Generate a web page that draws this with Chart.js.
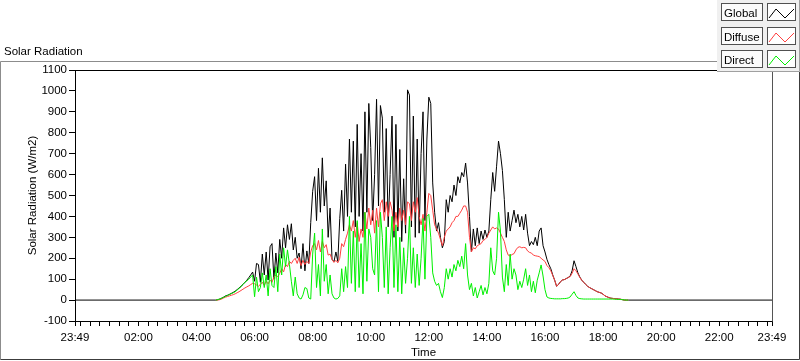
<!DOCTYPE html>
<html>
<head>
<meta charset="utf-8">
<title>Solar Radiation</title>
<script src="https://cdn.jsdelivr.net/npm/chart.js@4/dist/chart.umd.min.js"></script>
<style>
  html, body { margin: 0; padding: 0; background: #fff; }
  #wrap { position: relative; width: 800px; height: 361px; }
  canvas { display: block; }
</style>
</head>
<body>
<div id="wrap"><canvas id="solar-chart" width="800" height="361"></canvas></div>
<script>
    // axis: one full day starting at 23:49
    const axisStart = '23:49';
    const timeLabels = ['23:49', '02:00', '04:00', '06:00', '08:00', '10:00', '12:00',
                        '14:00', '16:00', '18:00', '20:00', '22:00', '23:49'];
    const minorTickStep = 20; // minutes between small ticks

    const yMin = -100;
    const yMax = 1100;
    const yStep = 100;

    // logger samples, every 4 minutes from 04:40
    const sampleStart = '04:40';
    const sampleStep = 4;

    const seriesNames = ['Global', 'Diffuse', 'Direct'];
    const seriesColors = ['#000000', '#ff4040', '#00f000'];

    const globalRad = [
        0, 2, 5, 9, 14, 20, 23, 27, 32, 37,
        43, 50, 58, 66, 75, 85, 95, 107, 120, 134,
        90, 175, 170, 85, 220, 120, 230, 96, 255, 270,
        100, 225, 130, 290, 200, 345, 250, 360, 290, 365,
        240, 300, 200, 225, 150, 270, 140, 235, 175, 370,
        520, 590, 380, 630, 420, 680, 450, 570, 300, 440,
        195, 183, 230, 185, 390, 525, 330, 650, 400, 770,
        420, 760, 350, 840, 400, 700, 330, 900, 420, 940,
        730, 380, 600, 960, 450, 930, 870, 420, 820, 350,
        600, 880, 300, 840, 330, 720, 280, 580, 320, 1005,
        980, 350, 880, 300, 770, 320, 700, 900, 380, 770,
        970, 940, 560, 420, 330, 370, 300, 250, 280, 480,
        420, 500, 470, 550, 500, 590, 560, 610, 590, 655,
        560, 400, 230, 340, 260, 345, 270, 330, 290, 335,
        300, 330, 480, 610, 520, 640, 760, 700, 620, 480,
        300, 420, 330, 380, 430, 370, 410, 350, 400, 335,
        410, 320, 260, 280, 265, 300, 260, 330, 345, 260,
        230, 195, 170, 150, 120, 95, 66, 75, 88, 96,
        98, 103, 108, 115, 140, 188, 160, 130, 110, 95,
        85, 75, 66, 60, 55, 50, 45, 40, 37, 34,
        28, 20, 16, 12, 9, 8, 7, 6, 5, 4,
        2, 0, 0, 0
    ];

    const diffuseRad = [
        0, 0, 2, 5, 10, 14, 17, 20, 23, 26,
        30, 35, 40, 46, 52, 58, 63, 68, 74, 80,
        78, 72, 66, 75, 85, 70, 90, 78, 95, 85,
        110, 120, 112, 128, 150, 135, 170, 160, 185, 175,
        190, 200, 175, 205, 165, 190, 170, 185, 175, 230,
        260, 270, 240, 285, 230, 280, 250, 265, 215, 220,
        195, 180, 190, 178, 200, 270, 255, 290, 320, 360,
        330, 380, 300, 370, 280, 340, 300, 420, 340, 440,
        360, 430, 320, 440, 350, 460, 480, 380, 470, 400,
        470, 430, 330, 420, 350, 440, 380, 430, 360, 470,
        460, 380, 470, 420, 490, 400, 360, 410, 330, 420,
        510, 500, 430, 360, 340, 320, 290, 260, 300, 330,
        340, 350, 370, 380, 400, 400, 415, 430, 450, 450,
        420, 300, 230, 250, 245, 260, 265, 270, 285, 290,
        300, 320, 335, 350, 340, 345, 340, 320, 300, 280,
        240, 215, 210, 218, 222, 240, 252, 255, 250, 252,
        250, 235, 228, 225, 215, 212, 210, 208, 200, 192,
        185, 165, 155, 140, 118, 95, 66, 75, 88, 96,
        98, 103, 108, 112, 128, 150, 140, 125, 108, 95,
        85, 75, 66, 60, 55, 50, 45, 40, 37, 34,
        28, 20, 16, 12, 9, 8, 7, 6, 5, 4,
        2, 0, 0, 0
    ];

    const directRad = [
        0, 2, 5, 9, 13, 18, 22, 27, 31, 35,
        40, 48, 56, 64, 75, 85, 92, 100, 110, 120,
        16, 110, 40, 60, 130, 60, 120, 20, 150, 70,
        60, 160, 40, 220, 120, 250, 160, 240, 170, 90,
        20, 110, 30, 10, 5, 25, 60, 55, 10, 5,
        220, 320, 60, 170, 20, 340, 90, 170, 30, 120,
        30, 10, 5, 8, 20, 150, 40, 160, 60, 400,
        80, 330, 40, 380, 60, 270, 30, 420, 90, 340,
        300, 150, 120, 380, 40, 420, 300, 60, 350, 30,
        250, 400, 60, 360, 40, 300, 30, 250, 80, 200,
        400, 80, 250, 60, 220, 70, 200, 390, 100, 400,
        410, 300, 130, 90, 70, 80, 40, 12, 60, 150,
        100, 150, 110, 170, 140, 190, 160, 210, 150, 270,
        120, 50, 80, 20, 60, 10, 40, 70, 25, 60,
        30, 80, 250, 140, 120, 200, 420, 330, 110, 40,
        170, 70, 220, 100, 150, 120, 50, 90, 60, 100,
        150, 70, 120, 40, 90, 35, 95, 130, 168, 115,
        50, 15, 10, 8, 7, 6, 6, 6, 6, 7,
        7, 8, 10, 15, 28, 40, 22, 10, 7, 6,
        5, 5, 5, 5, 5, 5, 5, 5, 5, 5,
        5, 5, 5, 5, 5, 5, 4, 4, 3, 3,
        2, 1, 0, 0
    ];

    const dayLength = 1440;
    const fontFamily = '"Liberation Sans", Arial, sans-serif';
    const fontSize = 11.5;

    function toMinutes(hhmm) {
        const [h, m] = hhmm.split(':').map(Number);
        return h * 60 + m;
    }

    // minutes after axisStart; a repeated axisStart means the end of the day
    function offsetOf(hhmm, i) {
        let m = toMinutes(hhmm) - toMinutes(axisStart);
        if (m < 0 || (m === 0 && i > 0)) m += dayLength;
        return m;
    }

    const labelOffsets = timeLabels.map(offsetOf);
    const firstSample = offsetOf(sampleStart, 1);

    function toPoints(values) {
        return values.map((v, i) => ({ x: firstSample + i * sampleStep, y: v }));
    }

    // global is logged all day; it is 0 outside the sampled hours
    const globalPoints = [{ x: 0, y: 0 }, ...toPoints(globalRad), { x: dayLength, y: 0 }];

    function buildTimeTicks(scale) {
        const vals = new Set(labelOffsets);
        const first = (minorTickStep - toMinutes(axisStart) % minorTickStep) % minorTickStep;
        for (let m = first; m < dayLength; m += minorTickStep) vals.add(m);
        scale.ticks = [...vals].sort((a, b) => a - b).map(v => ({ value: v }));
    }

    // LabVIEW-like frame, caption and plot legend
    const framePlugin = {
        id: 'labviewFrame',
        beforeDraw(chart) {
            const ctx = chart.ctx;
            ctx.save();
            ctx.fillStyle = '#ffffff';
            ctx.fillRect(0, 0, chart.width, chart.height);

            ctx.lineWidth = 1;
            ctx.strokeStyle = '#8c8c8c';
            ctx.beginPath();
            ctx.moveTo(0.5, 359.5);
            ctx.lineTo(0.5, 61.5);
            ctx.lineTo(799.5, 61.5);
            ctx.stroke();
            ctx.strokeStyle = '#3c3c3c';
            ctx.beginPath();
            ctx.moveTo(0.5, 359.5);
            ctx.lineTo(799.5, 359.5);
            ctx.lineTo(799.5, 61.5);
            ctx.stroke();

            ctx.fillStyle = '#000';
            ctx.font = `${fontSize}px ${fontFamily}`;
            ctx.textBaseline = 'alphabetic';
            ctx.textAlign = 'left';
            ctx.fillText('Solar Radiation', 4, 55);
            ctx.restore();
        },
        afterDraw(chart) {
            const ctx = chart.ctx;
            const a = chart.chartArea;
            ctx.save();
            ctx.lineWidth = 1;
            ctx.strokeStyle = '#000';
            ctx.beginPath();
            ctx.moveTo(Math.floor(a.left) + 0.5, Math.floor(a.top) + 0.5);
            ctx.lineTo(Math.floor(a.right) + 0.5, Math.floor(a.top) + 0.5);
            ctx.stroke();
            ctx.strokeStyle = '#555';
            ctx.beginPath();
            ctx.moveTo(Math.floor(a.right) + 0.5, Math.floor(a.top) + 0.5);
            ctx.lineTo(Math.floor(a.right) + 0.5, Math.floor(a.bottom) + 0.5);
            ctx.stroke();

            // legend panel
            ctx.fillStyle = '#f0f0f0';
            ctx.fillRect(717, 0, 83, 72);
            ctx.strokeStyle = '#a0a0a0';
            ctx.beginPath();
            ctx.moveTo(717, 71.5);
            ctx.lineTo(799.5, 71.5);
            ctx.lineTo(799.5, 0);
            ctx.stroke();

            ctx.font = `${fontSize}px ${fontFamily}`;
            ctx.textBaseline = 'alphabetic';
            ctx.textAlign = 'left';
            seriesNames.forEach((name, r) => {
                const y0 = 3 + Math.round(r * 23.5);
                ctx.fillStyle = '#fbfbfb';
                ctx.fillRect(721, y0, 42, 18);
                ctx.strokeStyle = '#505050';
                ctx.strokeRect(721.5, y0 + 0.5, 41, 17);
                ctx.fillStyle = '#000';
                ctx.fillText(name, 724, y0 + 14);

                ctx.fillStyle = '#ffffff';
                ctx.fillRect(767, y0, 29, 18);
                ctx.strokeStyle = '#505050';
                ctx.strokeRect(767.5, y0 + 0.5, 28, 17);
                ctx.strokeStyle = seriesColors[r];
                ctx.beginPath();
                ctx.moveTo(769, y0 + 15);
                ctx.lineTo(776, y0 + 6);
                ctx.lineTo(785, y0 + 15);
                ctx.lineTo(794, y0 + 6);
                ctx.stroke();
            });
            ctx.restore();
        }
    };

    Chart.defaults.font.family = fontFamily;
    Chart.defaults.font.size = fontSize;
    Chart.defaults.color = '#000';

    const ctx = document.getElementById('solar-chart').getContext('2d');
    new Chart(ctx, {
        type: 'line',
        data: {
            datasets: [
                { label: seriesNames[2], data: toPoints(directRad), borderColor: seriesColors[2], order: 0 },
                { label: seriesNames[1], data: toPoints(diffuseRad), borderColor: seriesColors[1], order: 1 },
                { label: seriesNames[0], data: globalPoints, borderColor: seriesColors[0], order: 2 }
            ]
        },
        options: {
            responsive: false,
            animation: false,
            devicePixelRatio: 1,
            parsing: false,
            events: [],
            layout: { padding: { top: 70, right: 28, left: 0, bottom: 0 } },
            elements: {
                point: { radius: 0 },
                line: { borderWidth: 1, tension: 0, fill: false }
            },
            plugins: {
                legend: { display: false },
                tooltip: { enabled: false }
            },
            scales: {
                x: {
                    type: 'linear',
                    min: 0,
                    max: dayLength,
                    afterBuildTicks: buildTimeTicks,
                    afterFit: scale => { scale.height = 40; },
                    ticks: {
                        autoSkip: false,
                        maxRotation: 0,
                        padding: 5,
                        callback: value => {
                            const idx = labelOffsets.indexOf(value);
                            return idx >= 0 ? timeLabels[idx] : '';
                        }
                    },
                    grid: { drawOnChartArea: false, tickLength: 5, color: '#000' },
                    border: { color: '#000' },
                    title: { display: true, text: 'Time', padding: { top: 0, bottom: 1 } }
                },
                y: {
                    min: yMin,
                    max: yMax,
                    afterFit: scale => { scale.width = 75; },
                    ticks: { stepSize: yStep, padding: 2, callback: value => String(value) },
                    grid: { drawOnChartArea: false, tickLength: 6, color: '#000' },
                    border: { color: '#000' },
                    title: { display: true, text: 'Solar Radiation (W/m2)', padding: { top: 26, bottom: 0 } }
                }
            }
        },
        plugins: [framePlugin]
    });
</script>
</body>
</html>
